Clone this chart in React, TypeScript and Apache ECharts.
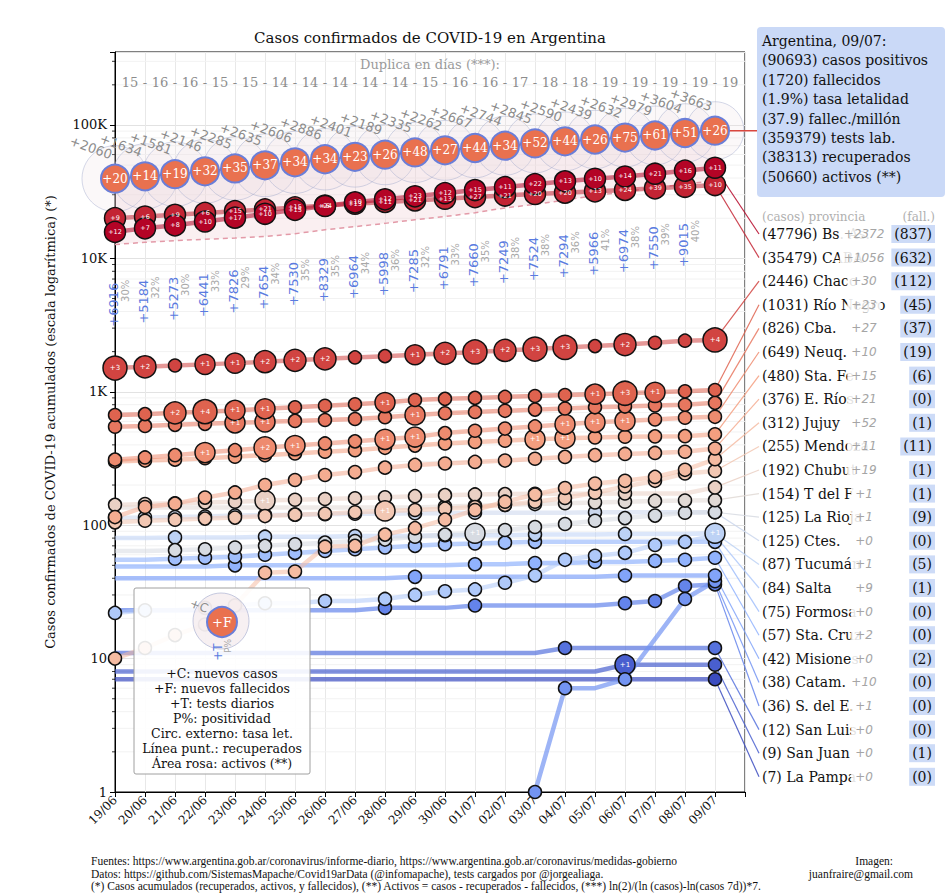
import React, { useEffect, useRef } from "react";
import * as echarts from "echarts";

const SERIF = '"DejaVu Serif", serif';
const SANS = '"DejaVu Sans", sans-serif';
const LSERIF = '"Liberation Serif", serif';

const dates = ["19/06","20/06","21/06","22/06","23/06","24/06","25/06","26/06","27/06","28/06","29/06","30/06","01/07","02/07","03/07","04/07","05/07","06/07","07/07","08/07","09/07"];

// national
const natCases = [39570,41204,42785,44931,47216,49851,52457,55343,57744,59933,62268,64530,67197,69941,72786,75376,77815,80447,83426,87030,90693];
const natNewCases = [2060,1634,1581,2146,2285,2635,2606,2886,2401,2189,2335,2262,2667,2744,2845,2590,2439,2632,2979,3604,3663];
const natNewDeaths = [20,14,19,32,35,37,34,34,23,26,48,27,44,34,52,44,26,75,61,51,26];
const natRecovered = [12700,13200,13600,13900,14200,14600,15300,16400,17300,18300,19500,20600,22000,23900,25400,27400,29500,31600,33900,36100,38313];
const natTests = [6916,5184,5273,6441,7826,7654,7530,8329,6964,5998,7285,6791,7660,7249,7524,7294,5966,6974,7550,9015];
const natPositivity = [30,32,30,33,29,34,35,35,34,36,32,33,35,38,38,36,41,38,39,40];
const doublingDays = [15,16,16,15,15,14,14,14,14,14,15,16,16,17,18,18,19,19,19,19,19];

const totalCases = 90693;
const totalDeaths = 1720;
const lethalityPct = "1.9";
const deathsPerMillion = "37.9";
const totalTests = 359379;
const totalRecovered = 38313;
const totalActive = 50660;

// provinces (19/06 .. 09/07)
const provNames = ["Bs. As.","CABA","Chaco","Río Negro","Cba.","Neuq.","Sta. Fe","E. Ríos","Jujuy","Mendoza","Chubut","T del F","La Rioja","Ctes.","Tucumán","Salta","Formosa","Sta. Cruz","Misiones","Catam.","S. del E.","San Luis","San Juan","La Pampa"];
const provDeathsTotal = [837,632,112,45,37,19,6,0,1,11,1,1,9,0,5,1,0,0,2,0,0,0,1,0];

const casesBsAs = [15800,16800,17700,18900,20200,21600,23100,24700,26300,27700,29200,30800,32500,34200,36000,37800,39500,41100,43100,45424,47796];
const casesCABA = [20000,20600,21200,21900,22600,23300,24100,24900,25700,26500,27200,28000,28800,29600,30400,31100,31800,32600,33500,34423,35479];
const casesChaco = [1507,1540,1575,1605,1640,1680,1720,1765,1810,1850,1895,1940,1990,2040,2090,2150,2200,2260,2330,2416,2446];
const casesRioNegro = [670,680,695,710,725,745,765,785,805,830,868,885,900,915,930,945,960,975,990,1008,1031];
const casesCba = [547,555,565,575,585,595,605,615,625,645,670,690,705,720,735,750,765,775,790,799,826];
const casesNeuq = [310,322,335,350,365,380,395,410,425,440,458,490,510,530,550,570,590,605,620,639,649];
const casesStaFe = [300,305,310,318,326,335,345,355,365,380,395,410,420,430,440,448,455,460,463,465,480];
const casesERios = [115,137,145,161,176,200,218,238,250,270,283,290,298,305,315,325,335,342,348,355,376];
const casesJujuy = [10,12,15,18,25,44,45,69,70,85,95,110,130,150,170,190,205,215,230,260,312];
const casesMendoza = [105,108,110,112,114,117,120,122,125,128,130,133,137,142,150,160,175,195,215,244,255];
const casesChubut = [142,144,146,148,150,153,155,157,159,162,165,168,170,171,172,172,172,173,173,173,192];
const casesTdF = [136,136,136,136,136,136,136,136,136,136,136,138,140,142,144,146,148,150,152,153,154];
const casesLaRioja = [64,64,65,66,68,70,72,74,76,78,82,85,87,92,97,102,108,113,118,124,125];
const casesCtes = [113,114,115,116,118,119,120,121,122,122,123,123,124,124,124,124,125,125,125,125,125];
const casesTucuman = [80,80,81,81,81,82,82,82,83,83,83,84,84,84,85,85,85,86,86,86,87];
const casesSalta = [22,23,23,24,25,26,26,27,27,28,30,32,33,37,42,55,59,62,71,75,84];
const casesFormosa = [55,55,56,57,58,60,62,64,66,68,70,72,73,74,75,75,75,75,75,75,75];
const casesStaCruz = [49,49,49,49,50,50,50,50,50,50,50,50,51,51,52,52,53,53,54,55,57];
const casesMisiones = [40,40,40,40,40,40,40,40,40,40,41,41,41,41,41,41,41,42,42,42,42];
const casesCatamarca = [null,null,null,null,null,null,null,null,null,null,null,null,null,null,1,6,6,7,null,28,38];
const casesSdE = [23,23,23,23,23,23,23,23,23,24,24,24,25,25,25,25,25,26,27,35,36];
const casesSanLuis = [11,11,11,11,11,11,11,11,11,11,11,11,11,11,11,12,12,12,12,12,12];
const casesSanJuan = [8,8,8,8,8,8,8,8,8,8,8,8,8,8,8,8,8,9,9,9,9];
const casesLaPampa = [7,7,7,7,7,7,7,7,7,7,7,7,7,7,7,7,7,7,7,7,7];

const provCases: (number | null)[][] = [casesBsAs,casesCABA,casesChaco,casesRioNegro,casesCba,casesNeuq,casesStaFe,casesERios,casesJujuy,casesMendoza,casesChubut,casesTdF,casesLaRioja,casesCtes,casesTucuman,casesSalta,casesFormosa,casesStaCruz,casesMisiones,casesCatamarca,casesSdE,casesSanLuis,casesSanJuan,casesLaPampa];

// daily new deaths per province
const deathsBsAs = [12,7,8,10,17,10,15,6,10,12,23,12,15,11,22,13,10,14,21,16,11];
const deathsCABA = [9,6,9,6,15,21,15,24,13,11,21,13,27,21,20,20,13,24,39,35,10];
const deathsChaco = [3,2,0,1,1,2,2,2,0,0,1,2,3,2,3,3,0,2,0,0,4];
const deathsRioNegro = [0,0,2,4,1,1,0,0,0,1,0,0,0,0,0,0,1,3,1,0,0];
const deathsCba = [0,0,0,0,1,1,0,0,0,0,1,0,0,0,0,0,0,0,0,0,0];
const deathsNeuq = [0,0,0,1,0,2,1,0,0,1,1,0,0,0,0,1,1,1,0,0,0];
const deathsStaFe = [0,0,0,0,0,0,0,0,0,0,0,0,0,0,1,1,0,0,0,0,0];
const deathsMendoza = [0,0,0,0,0,0,0,0,0,1,0,0,0,0,0,0,0,0,0,0,0];
const deathsChubut = [0,0,0,0,0,1,0,0,0,0,0,0,0,0,0,0,0,0,0,0,0];
const deathsLaRioja = [0,0,0,0,0,0,0,0,0,0,0,0,1,0,0,0,0,0,0,0,0];
const deathsTucuman = [0,0,0,0,0,0,0,0,0,0,0,0,0,0,0,0,0,0,0,0,1];
const deathsSanJuan = [0,0,0,0,0,0,0,0,0,0,0,0,0,0,0,0,0,1,0,0,0];

const provDailyDeaths: (number[] | null)[] = [deathsBsAs,deathsCABA,deathsChaco,deathsRioNegro,deathsCba,deathsNeuq,deathsStaFe,null,null,deathsMendoza,deathsChubut,null,deathsLaRioja,null,deathsTucuman,null,null,null,null,null,null,null,deathsSanJuan,null];

const yTickLabels: Record<number, string> = { 0: "1", 1: "10", 2: "100", 3: "1K", 4: "10K", 5: "100K" };

const titleText = "Casos confirmados de COVID-19 en Argentina";
const yAxisName = "Casos confirmados de COVID-19 acumulados (escala logarítmica) (*)";
const legendLines = ["+C: nuevos casos","+F: nuevos fallecidos","+T: tests diarios","P%: positividad","Circ. externo: tasa let.","Línea punt.: recuperados","Área rosa: activos (**)"];
const footerLines = [
  "Fuentes: https://www.argentina.gob.ar/coronavirus/informe-diario, https://www.argentina.gob.ar/coronavirus/medidas-gobierno",
  "Datos: https://github.com/SistemasMapache/Covid19arData (@infomapache), tests cargados por @jorgealiaga.",
  "(*) Casos acumulados (recuperados, activos, y fallecidos), (**) Activos = casos - recuperados - fallecidos, (***) ln(2)/(ln (casos)-ln(casos 7d))*7.",
];

function coolwarm(t: number): string {
  const stops = [[59,76,192],[98,130,234],[141,176,254],[184,208,249],[221,221,221],[245,196,173],[244,154,123],[222,96,77],[180,4,38]];
  const x = Math.max(0, Math.min(1, t)) * (stops.length - 1);
  const k = Math.min(stops.length - 2, Math.floor(x));
  const f = x - k;
  const c = stops[k].map((a, j) => Math.round(a + (stops[k + 1][j] - a) * f));
  return `rgb(${c[0]},${c[1]},${c[2]})`;
}
const provColor = (r: number) => coolwarm(1 - r / (provNames.length - 1));

const NAT_FILL = "#e9714f";
const NAT_EDGE = "#6a7ed8";
const ROW_Y0 = 234;
const ROW_DY = 23.6;

function buildOption() {
  const last = natCases.length - 1;
  const cumDeaths: number[] = new Array(natCases.length);
  cumDeaths[last] = totalDeaths;
  for (let i = last; i > 0; i--) cumDeaths[i - 1] = cumDeaths[i] - natNewDeaths[i];

  const minorVals: number[][] = [];
  for (let k = 0; k <= 5; k++) for (let m = 2; m <= 9; m++) { const v = m * Math.pow(10, k); if (v < 352400) minorVals.push([0, v]); }

  const series: any[] = [];

  series.push({
    type: "custom", name: "minor", z: 0, silent: true, clip: false,
    data: minorVals,
    renderItem: (params: any, api: any) => {
      const cs = params.coordSys;
      const y = api.coord([0, api.value(1)])[1];
      return { type: "group", children: [
        { type: "line", shape: { x1: cs.x, y1: y, x2: cs.x + cs.width, y2: y }, style: { stroke: "#f2f2f2", lineWidth: 1 } },
        { type: "line", shape: { x1: cs.x - 3, y1: y, x2: cs.x, y2: y }, style: { stroke: "#000", lineWidth: 0.8 } },
      ] };
    },
  });

  series.push({
    type: "custom", name: "activos", z: 1, silent: true, clip: true,
    data: natCases.map((v, i) => [i, v]),
    renderItem: (params: any, api: any) => {
      if (params.dataIndex !== 0) return null;
      const top = natCases.map((v, i) => api.coord([i, v]));
      const bot = natRecovered.map((v, i) => api.coord([i, v])).reverse();
      return { type: "polygon", shape: { points: top.concat(bot) }, style: { fill: "rgba(236,196,204,0.28)" } };
    },
  });

  series.push({
    type: "custom", name: "letalidad", z: 1, silent: true, clip: false,
    data: natCases.map((v, i) => [i, v]),
    renderItem: (params: any, api: any) => {
      const i = params.dataIndex;
      const p = api.coord([i, natCases[i]]);
      const let_ = (100 * cumDeaths[i]) / natCases[i];
      const r = 21 * Math.sqrt(let_);
      return { type: "circle", shape: { cx: p[0], cy: p[1], r }, style: { fill: "rgba(238,222,226,0.22)", stroke: "rgba(160,168,205,0.45)", lineWidth: 1 } };
    },
  });

  series.push({
    type: "line", name: "recuperados", z: 2, silent: true, symbol: "none",
    data: natRecovered.map((v, i) => [i, v]),
    lineStyle: { color: "#e39aa8", width: 1.5, type: [5, 4] },
  });

  series.push({
    type: "custom", name: "conn", z: 2, silent: true, clip: false,
    data: provCases.map((arr, r) => [arr.length - 1, arr[arr.length - 1] as number, r]),
    renderItem: (params: any, api: any) => {
      const r = params.dataIndex;
      const p = api.coord([api.value(0), api.value(1)]);
      const children: any[] = [
        { type: "line", shape: { x1: p[0], y1: p[1], x2: 759, y2: ROW_Y0 + r * ROW_DY }, style: { stroke: provColor(r), lineWidth: 1.2, opacity: 0.85 } },
      ];
      if (r === 0) {
        const q = api.coord([last, natCases[last]]);
        children.push({ type: "line", shape: { x1: q[0], y1: q[1], x2: 757, y2: q[1] }, style: { stroke: "#d9473f", lineWidth: 1.5 } });
      }
      return { type: "group", children };
    },
  });

  for (let r = provCases.length - 1; r >= 0; r--) {
    const arr = provCases[r];
    const col = provColor(r);
    const deaths = provDailyDeaths[r];
    const big = r < 2;
    const data: any[] = [];
    arr.forEach((v, i) => {
      if (v == null) return;
      const prev = i > 0 ? arr[i - 1] : null;
      const next = i < arr.length - 1 ? arr[i + 1] : null;
      const d = deaths ? deaths[i] : 0;
      const changed = i === 0 ? next != null && next !== v : prev == null || prev !== v;
      const show = big || changed || d > 0 || i === arr.length - 1;
      const size = big ? 21 : d > 0 ? 18 + 2 * Math.min(d, 3) : 13;
      data.push({ value: [i, v], symbol: show ? "circle" : "none", symbolSize: size, label: { show: d > 0, formatter: "+" + d } });
    });
    series.push({
      type: "line", name: provNames[r], z: 3, silent: true, showAllSymbol: true,
      data,
      lineStyle: { color: col, width: 4.5, opacity: r > 15 ? 0.7 : 0.55 },
      itemStyle: { color: col, borderColor: "#111", borderWidth: 1.5 },
      label: { position: "inside", color: "#fff", fontSize: big ? 6.5 : 7, fontFamily: SANS },
    });
  }

  series.push({
    type: "line", name: "Argentina", z: 5, silent: true, symbol: "circle", symbolSize: 28, showAllSymbol: true,
    data: natCases.map((v, i) => [i, v]),
    lineStyle: { color: NAT_FILL, width: 2 },
    itemStyle: { color: NAT_FILL, borderColor: NAT_EDGE, borderWidth: 2 },
    label: { show: true, position: "inside", color: "#fff", fontSize: 12, fontFamily: SERIF, formatter: (p: any) => "+" + natNewDeaths[p.dataIndex] },
  });

  series.push({
    type: "custom", name: "natText", z: 6, silent: true, clip: false,
    data: natCases.map((v, i) => [i, v]),
    renderItem: (params: any, api: any) => {
      const i = params.dataIndex;
      const p = api.coord([i, natCases[i]]);
      const children: any[] = [];
      children.push({ type: "text", x: p[0] - 24, y: p[1] - 31, rotation: (-20 * Math.PI) / 180,
        style: { text: "+" + natNewCases[i], fill: "#8c8c8c", fontSize: 13, fontFamily: SANS, align: "center", verticalAlign: "middle" } });
      if (i < natTests.length) {
        const ty = p[1] + 104 - (14 * i) / (natTests.length - 1);
        children.push({ type: "text", x: p[0] - 2, y: ty, rotation: Math.PI / 2,
          style: { text: "+" + natTests[i], fill: "#5a7be0", fontSize: 13, fontFamily: SANS, align: "right", verticalAlign: "middle" } });
        children.push({ type: "text", x: p[0] + 10, y: ty - 3, rotation: Math.PI / 2,
          style: { text: natPositivity[i] + "%", fill: "#a8a8a8", fontSize: 10, fontFamily: SANS, align: "right", verticalAlign: "middle" } });
      }
      const q = api.coord([i + 0.5, 1]);
      children.push({ type: "text", x: q[0], y: 82, style: { text: String(doublingDays[i]), fill: "#8c8c8c", fontSize: 13, fontFamily: SERIF, align: "center", verticalAlign: "middle" } });
      if (i < natCases.length - 1) {
        const s = api.coord([i + 1, 1]);
        children.push({ type: "text", x: s[0], y: 82, style: { text: "-", fill: "#8c8c8c", fontSize: 13, fontFamily: SERIF, align: "center", verticalAlign: "middle" } });
      }
      return { type: "group", children };
    },
  });

  const graphics: any[] = [];
  const T = (x: number, y: number, text: string, o: any = {}) => ({
    type: "text", x, y, rotation: o.rotation || 0, z: o.z || 100,
    style: { text, fill: o.fill || "#111", fontSize: o.fontSize || 13, fontFamily: o.fontFamily || SERIF, fontStyle: o.fontStyle || "normal",
      align: o.align || "left", verticalAlign: o.verticalAlign || "middle", backgroundColor: o.bg, padding: o.padding, borderRadius: o.br },
  });

  graphics.push(T(430, 38, titleText, { fontSize: 15, align: "center" }));
  graphics.push(T(50, 422, yAxisName, { fontSize: 13, align: "center", rotation: Math.PI / 2 }));
  graphics.push(T(430, 64, "Duplica en días (***):", { fontSize: 13, align: "center", fill: "#9a9a9a" }));

  const summary = [
    "Argentina, 09/07:",
    `(${totalCases}) casos positivos`,
    `(${totalDeaths}) fallecidos`,
    `(${lethalityPct}%) tasa letalidad`,
    `(${deathsPerMillion}) fallec./millón`,
    `(${totalTests}) tests lab.`,
    `(${totalRecovered}) recuperados`,
    `(${totalActive}) activos (**)`,
  ];
  graphics.push({ type: "rect", z: 90, shape: { x: 757, y: 27, width: 188, height: 170, r: 4 }, style: { fill: "#cad9f7" } });
  summary.forEach((s, k) => graphics.push(T(762, 41 + k * 19.4, s, { fontSize: 14 })));

  graphics.push(T(762, 217, "(casos) provincia", { fontSize: 12, fill: "#b0b0b0" }));
  graphics.push(T(935, 217, "(fall.)", { fontSize: 12, fill: "#b0b0b0", align: "right" }));
  provNames.forEach((nm, r) => {
    const arr = provCases[r];
    const v = arr[arr.length - 1] as number;
    const pv = arr[arr.length - 2];
    const nc = pv == null ? v : v - pv;
    const y = ROW_Y0 + r * ROW_DY;
    graphics.push(T(935, y, `(${provDeathsTotal[r]})`, { fontSize: 14, align: "right", bg: "#cddbf7", padding: [2, 3, 2, 3] }));
    graphics.push(T(762, y, `(${v}) ${nm}`, { fontSize: 14 }));
    graphics.push(T(864, y, "+" + nc, { fontSize: 12, fontStyle: "italic", fill: "#a5a5a5", align: "center", fontFamily: SANS, bg: "rgba(255,255,255,0.88)", padding: [2, 4, 2, 4] }));
  });

  graphics.push({ type: "rect", z: 110, shape: { x: 134, y: 588, width: 176, height: 186, r: 2 }, style: { fill: "rgba(255,255,255,0.9)", stroke: "#a0a0a0", lineWidth: 1 } });
  graphics.push({ type: "circle", z: 111, shape: { cx: 221, cy: 621, r: 28 }, style: { fill: "rgba(240,226,230,0.5)", stroke: "rgba(160,168,205,0.6)", lineWidth: 1 } });
  graphics.push({ type: "circle", z: 112, shape: { cx: 222, cy: 622, r: 15 }, style: { fill: NAT_FILL, stroke: NAT_EDGE, lineWidth: 2 } });
  graphics.push(T(222, 622, "+F", { z: 113, fill: "#fff", fontSize: 13, align: "center" }));
  graphics.push(T(199, 606, "+C", { z: 113, fill: "#8c8c8c", fontSize: 12, fontFamily: SANS, align: "center", rotation: (-20 * Math.PI) / 180 }));
  graphics.push(T(218, 652, "+T", { z: 113, fill: "#5a7be0", fontSize: 12, fontFamily: SANS, align: "center", rotation: Math.PI / 2 }));
  graphics.push(T(228, 646, "P%", { z: 113, fill: "#a8a8a8", fontSize: 9, fontFamily: SANS, align: "center", rotation: Math.PI / 2 }));
  legendLines.forEach((s, k) => graphics.push(T(222, 673 + k * 15, s, { z: 113, fontSize: 12.5, align: "center" })));

  footerLines.forEach((s, k) => graphics.push(T(91, 861 + k * 12.5, s, { fontSize: 11.5, fontFamily: LSERIF })));
  graphics.push(T(893, 861, "Imagen:", { fontSize: 11.5, fontFamily: LSERIF, align: "right" }));
  graphics.push(T(913, 873.5, "juanfraire@gmail.com", { fontSize: 11.5, fontFamily: LSERIF, align: "right" }));

  return {
    animation: false,
    backgroundColor: "#fff",
    grid: { left: 115, right: 205, top: 52, bottom: 103, show: true, borderColor: "#000", borderWidth: 1, containLabel: false, outerBoundsMode: "none" },
    xAxis: {
      type: "value", min: 0, max: 21, interval: 1,
      axisLine: { show: true, lineStyle: { color: "#000", width: 1 } },
      axisTick: { show: true, length: 5, lineStyle: { color: "#000" } },
      axisLabel: { formatter: (v: number) => dates[Math.round(v)] ?? "", rotate: 45, fontSize: 12, fontFamily: SERIF, color: "#111", margin: 6, hideOverlap: false },
      splitLine: { show: true, lineStyle: { color: "#e8e8e8", width: 1 } },
    },
    yAxis: {
      type: "log", logBase: 10, min: 1, max: 352400, splitNumber: 5,
      axisLine: { show: true, lineStyle: { color: "#000", width: 1 } },
      axisTick: { show: true, length: 5, lineStyle: { color: "#000" } },
      axisLabel: {
        fontSize: 13, fontFamily: SERIF, color: "#111", margin: 8, hideOverlap: false,
        formatter: (v: number) => { const e = Math.log10(v); const r = Math.round(e); return Math.abs(e - r) < 1e-6 ? yTickLabels[r] ?? "" : ""; },
      },
      splitLine: { show: true, lineStyle: { color: "#e2e2e2", width: 1 } },
    },
    series,
    graphic: { elements: graphics },
  };
}

export default function App() {
  const ref = useRef<HTMLDivElement>(null);
  useEffect(() => {
    if (!ref.current) return;
    const chart = echarts.init(ref.current, null, { renderer: "svg" });
    chart.setOption(buildOption() as any);
    return () => chart.dispose();
  }, []);
  return <div ref={ref} style={{ position: "fixed", left: 0, top: 0, width: 950, height: 895, background: "#fff" }} />;
}
